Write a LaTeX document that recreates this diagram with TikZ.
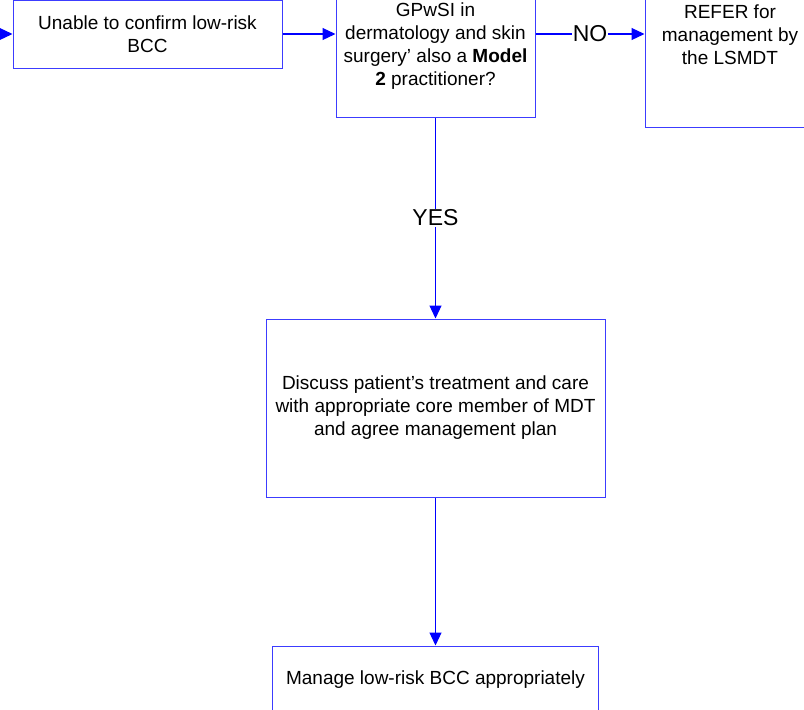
\documentclass[tikz,border=0pt]{standalone}
\usepackage{fontspec}
\setmainfont{Liberation Sans}
\usetikzlibrary{arrows.meta}
\definecolor{boxblue}{RGB}{60,60,255}
\definecolor{lineblue}{RGB}{0,0,255}
\tikzset{
  box/.style={draw=boxblue, line width=1pt, fill=white, inner sep=0pt,
    align=center, font=\fontsize{19}{23}\selectfont, text=black},
  conn/.style={draw=lineblue, line width=1.2pt, -{Triangle[length=13pt,width=12pt]}},
  lbl/.style={fill=white, inner sep=1pt, font=\fontsize{23}{27}\selectfont, text=black}
}
\begin{document}
\begin{tikzpicture}[x=1pt,y=-1pt]
\useasboundingbox (0,0) rectangle (804,710);
\clip (0,0) rectangle (804,710);
\node[box, minimum width=269pt, minimum height=68pt] (b1) at (147.5,34)
  {Unable to confirm low-risk\\BCC};
\node[box, minimum width=199pt, minimum height=141pt] (b2) at (435.5,46.5)
  {GPwSI in\\dermatology and skin\\surgery’ also a \textbf{Model}\\\textbf{2} practitioner?};
\node[box, minimum width=170pt, minimum height=184pt] (b3) at (730,35)
  {REFER for\\management by\\the LSMDT};
\node[box, minimum width=339pt, minimum height=178pt] (b4) at (435.5,408)
  {Discuss patient’s treatment and care\\with appropriate core member of MDT\\and agree management plan};
\node[box, minimum width=326pt, minimum height=68pt] (b5) at (435.5,680)
  {Manage low-risk BCC appropriately};
\coordinate (in) at (-2,34);
\draw[conn] (in) -- (b1.west);
\draw[conn] (b1.east) -- (b2.west |- b1.east);
\draw[conn] (b2.east |- b1.east) -- node[lbl] (no) {NO} (b3.west |- b1.east);
\draw[conn] (b2.south) -- node[lbl] (yes) {YES} (b4.north);
\draw[conn] (b4.south) -- (b5.north);
\end{tikzpicture}
\end{document}
